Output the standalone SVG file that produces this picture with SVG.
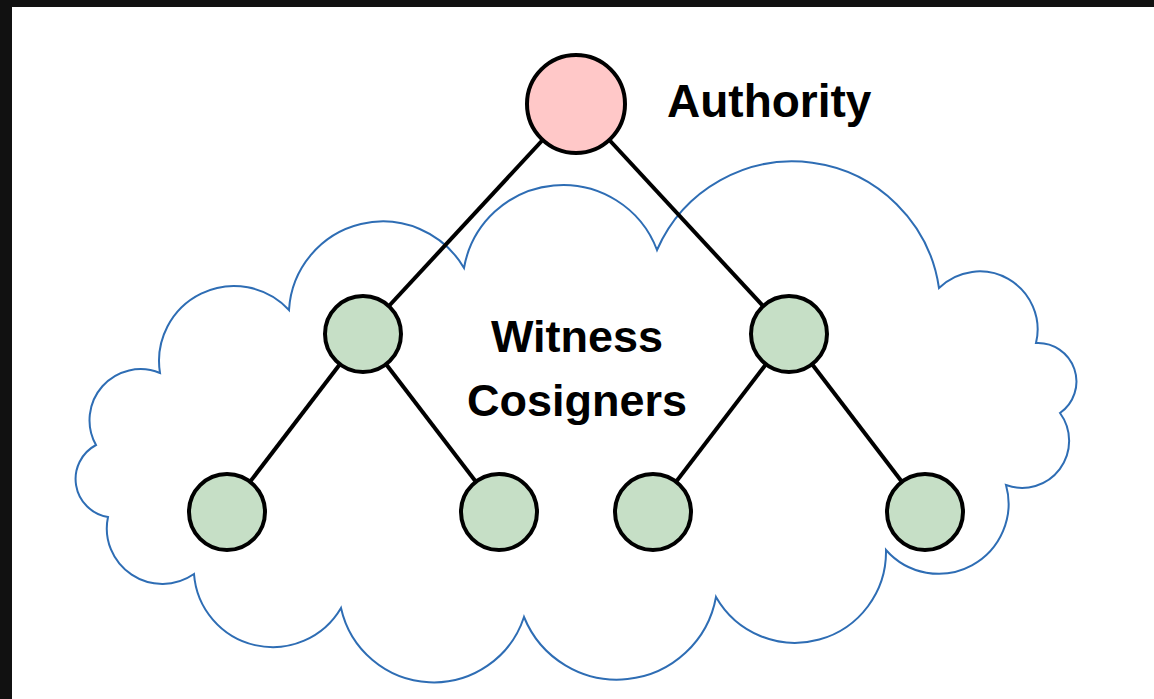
<svg xmlns="http://www.w3.org/2000/svg" width="1154" height="699" viewBox="0 0 1154 699">
  <style>
    .frame { fill: #111111; }
    .cloud { fill: none; stroke: #2e6db4; stroke-width: 2; stroke-linejoin: miter; }
    .edge { stroke: #000000; stroke-width: 4; stroke-linecap: butt; }
    .node { stroke: #000000; stroke-width: 4; }
    .authority { fill: #ffc8c8; }
    .witness { fill: #c6dfc6; }
    .label { font-family: "Liberation Sans", Arial, sans-serif; font-weight: bold; font-size: 45px; fill: #000000; }
  </style>

  <!-- page background with dark window edge -->
  <rect x="0" y="0" width="1154" height="699" fill="#ffffff"/>
  <rect class="frame" x="0" y="0" width="1154" height="7"/>
  <rect class="frame" x="0" y="0" width="12" height="699"/>

  <!-- cosigner cloud: chain of circular bumps meeting at inward cusps -->
  <path id="cloud" class="cloud" d="M 108 517
    A 38.5 38.5 0 0 1 96 445
    A 51 51 0 0 1 160 373
    A 75 75 0 0 1 289 310
    A 94 94 0 0 1 464 268
    A 100.5 100.5 0 0 1 657 250
    A 148 148 0 0 1 939 288
    A 58 58 0 0 1 1036 343
    A 38.5 38.5 0 0 1 1060 413
    A 47 47 0 0 1 1006 485
    A 70 70 0 0 1 886 550
    A 91 91 0 0 1 716 597
    A 100.5 100.5 0 0 1 524 617
    A 95 95 0 0 1 341 608
    A 79 79 0 0 1 194 574
    A 55.5 55.5 0 0 1 108 517 Z"/>

  <!-- tree edges -->
  <g id="connectors">
    <line class="edge" x1="576" y1="104" x2="363" y2="334"/>
    <line class="edge" x1="576" y1="104" x2="789" y2="334"/>
    <line class="edge" x1="363" y1="334" x2="227" y2="512"/>
    <line class="edge" x1="363" y1="334" x2="499" y2="512"/>
    <line class="edge" x1="789" y1="334" x2="653" y2="512"/>
    <line class="edge" x1="789" y1="334" x2="925" y2="512"/>
  </g>

  <!-- nodes -->
  <g id="authority">
    <circle class="node authority" cx="576" cy="104" r="49"/>
    <text class="label" x="667" y="117" style="font-size:46px">Authority</text>
  </g>
  <g id="witness-left">
    <circle class="node witness" cx="363" cy="334" r="38"/>
  </g>
  <g id="witness-right">
    <circle class="node witness" cx="789" cy="334" r="38"/>
  </g>
  <g id="witness-left-left">
    <circle class="node witness" cx="227" cy="512" r="38"/>
  </g>
  <g id="witness-left-right">
    <circle class="node witness" cx="499" cy="512" r="38"/>
  </g>
  <g id="witness-right-left">
    <circle class="node witness" cx="653" cy="512" r="38"/>
  </g>
  <g id="witness-right-right">
    <circle class="node witness" cx="925" cy="512" r="38"/>
  </g>

  <g id="cloud-label">
    <text class="label" x="577" y="352" text-anchor="middle">Witness</text>
    <text class="label" x="577" y="416" text-anchor="middle">Cosigners</text>
  </g>
</svg>
